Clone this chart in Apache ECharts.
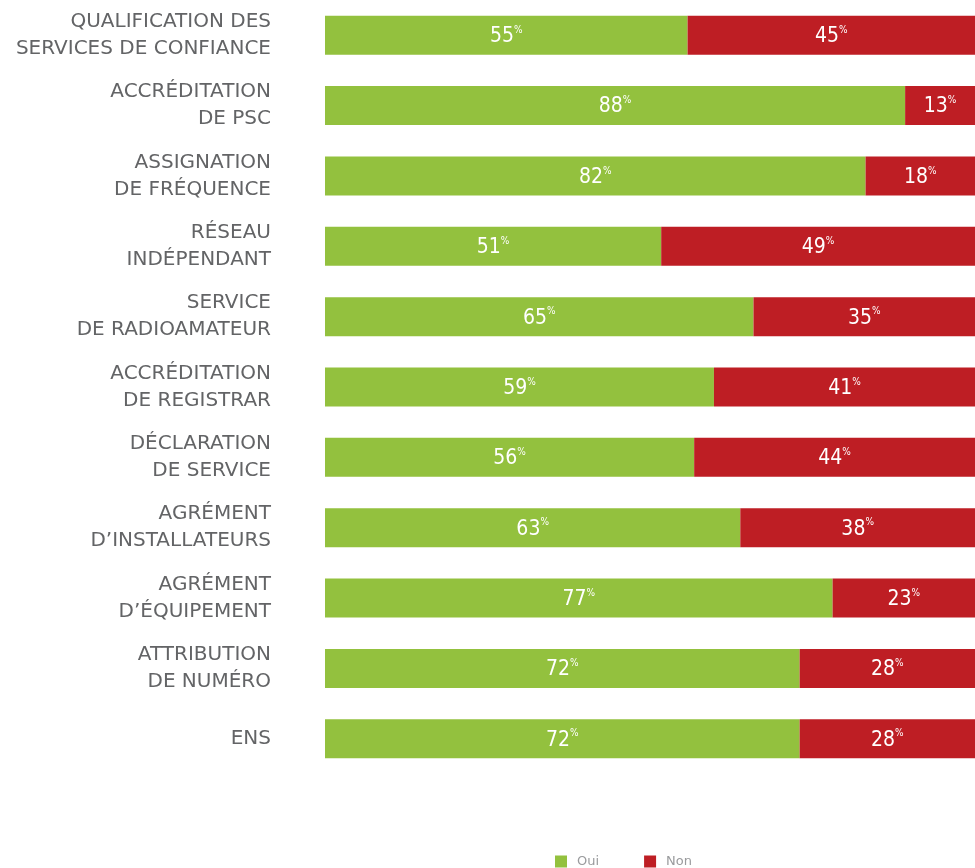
<!DOCTYPE html>
<html><head><meta charset="utf-8">
<script src="https://cdn.jsdelivr.net/npm/echarts@6/dist/echarts.min.js"></script>
<style>html,body{margin:0;padding:0;background:#fff}#c{width:975px;height:868px}</style>
</head><body><div id="c"></div>
<script>
const categories = [
  'QUALIFICATION DES\nSERVICES DE CONFIANCE',
  'ACCRÉDITATION\nDE PSC',
  'ASSIGNATION\nDE FRÉQUENCE',
  'RÉSEAU\nINDÉPENDANT',
  'SERVICE\nDE RADIOAMATEUR',
  'ACCRÉDITATION\nDE REGISTRAR',
  'DÉCLARATION\nDE SERVICE',
  'AGRÉMENT\nD’INSTALLATEURS',
  'AGRÉMENT\nD’ÉQUIPEMENT',
  'ATTRIBUTION\nDE NUMÉRO',
  'ENS'
];
const oui = [55, 88, 82, 51, 65, 59, 56, 63, 77, 72, 72];
const non = [45, 13, 18, 49, 35, 41, 44, 38, 23, 28, 28];

const chart = echarts.init(document.getElementById('c'));
const valFont = '"DejaVu Sans Condensed","DejaVu Sans",sans-serif';
function lab(p){ return '{a|' + p.value + '}{b|%}'; }
const labelCfg = {
  show: true, position: 'inside', color: '#fff', formatter: lab, offset: [0, 1],
  rich: {
    a: {fontFamily: valFont, fontSize: 21, color: '#fff', verticalAlign: 'bottom', lineHeight: 22},
    b: {fontFamily: valFont, fontSize: 10, color: '#fff', verticalAlign: 'top', lineHeight: 22, padding: [0,0,11,0]}
  }
};
chart.setOption({
  animation: false,
  grid: {left: 325, top: 0, right: 0, height: 774, containLabel: false},
  legend: {
    top: 850, left: 550, itemWidth: 12, itemHeight: 12, itemGap: 45,
    icon: 'rect',
    textStyle: {color: '#9a9b9d', fontSize: 13, fontFamily: 'DejaVu Sans', padding: [0, 0, 0, 5]},
    data: ['Oui', 'Non']
  },
  xAxis: {type: 'value', min: 0, max: 98.6, show: false},
  yAxis: {
    type: 'category', data: categories, inverse: true,
    axisLine: {show: false}, axisTick: {show: false},
    axisLabel: {margin: 54, color: '#636466', fontSize: 20, fontFamily: 'DejaVu Sans', lineHeight: 27, align: 'right'}
  },
  series: [
    {name: 'Oui', type: 'bar', stack: 't', data: oui, barWidth: 39, itemStyle: {color: '#93c13e'}, label: labelCfg},
    {name: 'Non', type: 'bar', stack: 't', data: non, barWidth: 39, itemStyle: {color: '#be1e24'}, label: labelCfg}
  ]
});
</script></body></html>
